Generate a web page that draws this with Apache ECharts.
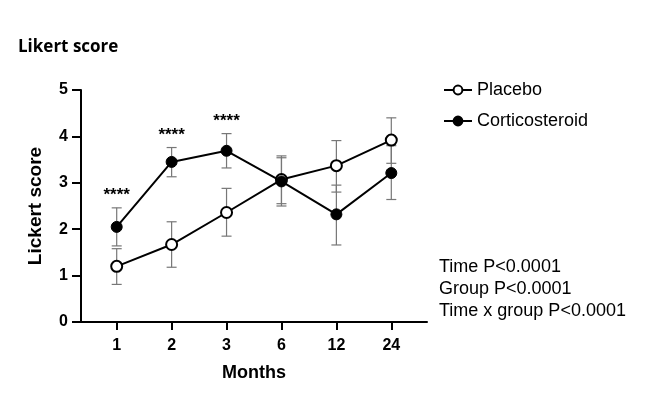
<!DOCTYPE html>
<html>
<head>
<meta charset="utf-8">
<script src="https://cdn.jsdelivr.net/npm/echarts@6/dist/echarts.min.js"></script>
<style>
  html, body { margin: 0; padding: 0; background: #fff; }
  #chart { width: 646px; height: 397px; }
</style>
</head>
<body>
<div id="chart"></div>
<script>
// months on the x axis
const months = ['1', '2', '3', '6', '12', '24']
// mean likert scores
const placebo = [1.20, 1.67, 2.36, 3.07, 3.37, 3.92]
const cortico = [2.05, 3.45, 3.69, 3.03, 2.32, 3.21]
// error bar ends (low / high)
const placeboLow = [0.81, 1.18, 1.85, 2.55, 2.80, 3.42]
const placeboHigh = [1.58, 2.16, 2.88, 3.58, 3.91, 4.40]
const corticoLow = [1.64, 3.13, 3.32, 2.50, 1.66, 2.64]
const corticoHigh = [2.46, 3.76, 4.06, 3.54, 2.95, 3.80]
// significance marks above corticosteroid points
const sigLabels = ['****', '****', '****', '', '', '']
const yTicks = [0, 1, 2, 3, 4, 5]
const stats = ['Time P<0.0001', 'Group P<0.0001', 'Time x group P<0.0001']

const chart = echarts.init(document.getElementById('chart'))
const font = 'Liberation Sans, Arial, sans-serif'

function errorBars(labels) {
  return function(params, api) {
    const x = api.value(0)
    const lo = api.coord([x, api.value(1)])
    const hi = api.coord([x, api.value(2)])
    const cap = 5
    const style = { stroke: '#777', lineWidth: 1.2 }
    const children = [
      { type: 'line', shape: { x1: lo[0], y1: lo[1], x2: hi[0], y2: hi[1] }, style },
      { type: 'line', shape: { x1: lo[0] - cap, y1: lo[1], x2: lo[0] + cap, y2: lo[1] }, style },
      { type: 'line', shape: { x1: hi[0] - cap, y1: hi[1], x2: hi[0] + cap, y2: hi[1] }, style }
    ]
    const lbl = labels ? labels[params.dataIndex] : ''
    if (lbl) {
      children.push({
        type: 'text',
        style: {
          text: lbl, x: hi[0], y: hi[1] - 4,
          align: 'center', verticalAlign: 'bottom',
          font: 'bold 17px ' + font, fill: '#000'
        }
      })
    }
    return { type: 'group', children }
  }
}

chart.setOption({
  backgroundColor: '#fff',
  animation: false,
  title: {
    text: 'Likert score',
    left: 18,
    top: 39,
    padding: 0,
    textStyle: { fontFamily: 'Open Sans', fontWeight: 'bold', fontSize: 17, color: '#000' }
  },
  legend: {
    orient: 'vertical',
    left: 438,
    top: 76,
    itemWidth: 28,
    itemHeight: 11,
    itemGap: 13,
    textStyle: { fontFamily: font, fontSize: 18, color: '#000' },
    data: ['Placebo', 'Corticosteroid']
  },
  graphic: stats.map(function(s, i) {
    return {
      type: 'text',
      left: 439,
      top: 258 + i * 22,
      style: { text: s, font: '18px ' + font, fill: '#000' }
    }
  }),
  grid: { left: 81, right: 219, top: 90, bottom: 75 },
  xAxis: {
    type: 'value',
    min: -0.65,
    max: 5.65,
    name: 'Months',
    nameLocation: 'middle',
    nameGap: 42,
    nameTextStyle: { fontFamily: font, fontWeight: 'bold', fontSize: 18, color: '#000' },
    splitLine: { show: false },
    axisLine: { onZero: false, lineStyle: { color: '#000', width: 2 } },
    axisTick: { customValues: [0, 1, 2, 3, 4, 5], length: 8, lineStyle: { color: '#000', width: 2 } },
    axisLabel: {
      customValues: [0, 1, 2, 3, 4, 5],
      margin: 16,
      fontFamily: font, fontWeight: 'bold', fontSize: 16, color: '#000',
      formatter: function(v) { return months[Math.round(v)] }
    }
  },
  yAxis: {
    type: 'value',
    min: 0,
    max: 5,
    interval: 1,
    name: 'Lickert score',
    nameLocation: 'middle',
    nameGap: 36,
    nameTextStyle: { fontFamily: font, fontWeight: 'bold', fontSize: 19, color: '#000' },
    splitLine: { show: false },
    axisLine: { show: true, onZero: false, lineStyle: { color: '#000', width: 2 } },
    axisTick: { show: true, length: 9, lineStyle: { color: '#000', width: 2 } },
    axisLabel: {
      margin: 13,
      fontFamily: font, fontWeight: 'bold', fontSize: 16, color: '#000',
      formatter: function(v) { return yTicks.indexOf(v) >= 0 ? String(v) : '' }
    }
  },
  series: [
    {
      name: 'Placebo error',
      type: 'custom',
      renderItem: errorBars(null),
      data: placebo.map(function(v, i) { return [i, placeboLow[i], placeboHigh[i]] }),
      z: 1
    },
    {
      name: 'Corticosteroid error',
      type: 'custom',
      renderItem: errorBars(sigLabels),
      data: cortico.map(function(v, i) { return [i, corticoLow[i], corticoHigh[i]] }),
      z: 1
    },
    {
      name: 'Placebo',
      type: 'line',
      data: placebo.map(function(v, i) { return [i, v] }),
      symbol: 'circle',
      symbolSize: 11,
      lineStyle: { color: '#000', width: 2 },
      itemStyle: { color: '#fff', borderColor: '#000', borderWidth: 2 },
      z: 3
    },
    {
      name: 'Corticosteroid',
      type: 'line',
      data: cortico.map(function(v, i) { return [i, v] }),
      symbol: 'circle',
      symbolSize: 11,
      lineStyle: { color: '#000', width: 2 },
      itemStyle: { color: '#000', borderColor: '#000', borderWidth: 1 },
      z: 3
    }
  ]
})
</script>
</body>
</html>
